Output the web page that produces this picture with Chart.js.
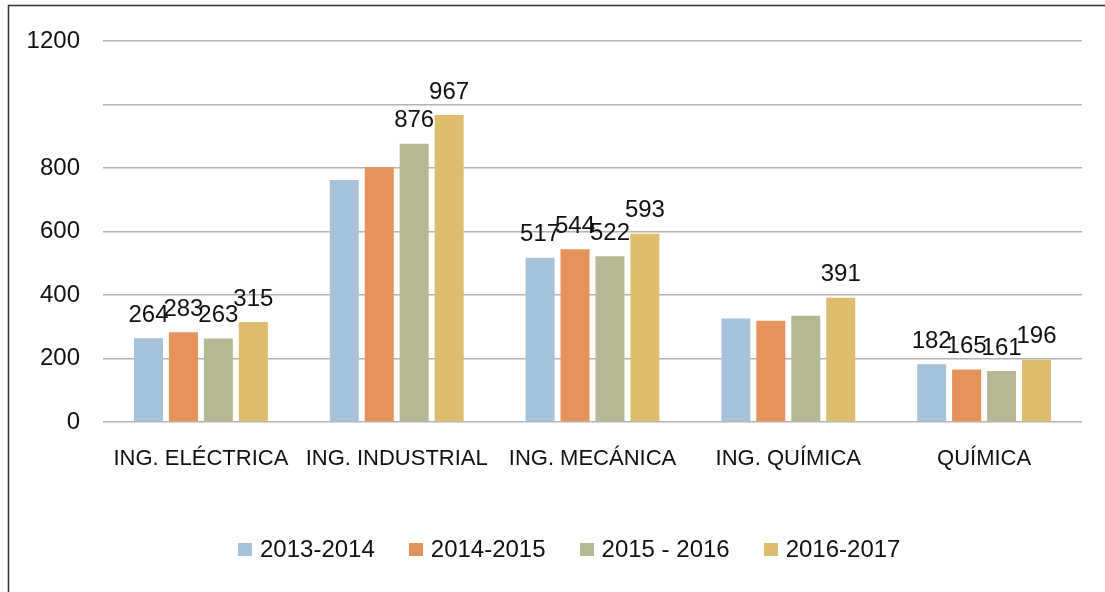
<!DOCTYPE html>
<html>
<head>
<meta charset="utf-8">
<script src="https://cdn.jsdelivr.net/npm/chart.js@4"></script>
<style>
html,body{margin:0;padding:0;background:#fff;}
#wrap{position:relative;width:1105px;height:592px;}
canvas{display:block;}
#legend{position:absolute;left:238px;top:535px;display:flex;align-items:center;font-family:'Liberation Sans',Arial,sans-serif;font-size:24px;color:#111;white-space:nowrap;}
#legend .item{display:flex;align-items:center;margin-right:34px;}
#legend .box{width:14px;height:13px;margin-right:8px;}
</style>
</head>
<body>
<div id="wrap"><canvas id="c" width="1105" height="592"></canvas><div id="legend"></div></div>
<script>
const categories = ['ING. ELÉCTRICA', 'ING. INDUSTRIAL', 'ING. MECÁNICA', 'ING. QUÍMICA', 'QUÍMICA'];
const seriesNames = ['2013-2014', '2014-2015', '2015 - 2016', '2016-2017'];
const s2013 = [264, 762, 517, 326, 182];
const s2014 = [283, 803, 544, 319, 165];
const s2015 = [263, 876, 522, 335, 161];
const s2016 = [315, 967, 593, 391, 196];
// which value labels are visible in the reference (others are hidden/overlapped)
const showLabel2013 = [true, false, true, false, true];
const showLabel2014 = [true, false, true, false, true];
const showLabel2015 = [true, true, true, false, true];
const showLabel2016 = [true, true, true, true, true];
const yTicks = [0, 200, 400, 600, 800, 1000, 1200];
const yTickLabels = ['0', '200', '400', '600', '800', '', '1200'];
const colors = ['#A6C3DB', '#E4935B', '#B5B893', '#DFBD6E'];

const FONT = "'Liberation Sans', Arial, sans-serif";
const seriesData = [s2013, s2014, s2015, s2016];
const showLabels = [showLabel2013, showLabel2014, showLabel2015, showLabel2016];

const valueLabels = {
  id: 'valueLabels',
  afterDatasetsDraw(chart) {
    const ctx = chart.ctx;
    ctx.save();
    ctx.font = '24px ' + FONT;
    ctx.fillStyle = '#111';
    ctx.textAlign = 'center';
    ctx.textBaseline = 'middle';
    chart.data.datasets.forEach((ds, di) => {
      const meta = chart.getDatasetMeta(di);
      meta.data.forEach((bar, i) => {
        if (!showLabels[di][i]) return;
        ctx.fillText(String(ds.data[i]), bar.x, bar.y - 23);
      });
    });
    ctx.restore();
  }
};

const frame = {
  id: 'frame',
  beforeDraw(chart) {
    const ctx = chart.ctx;
    ctx.save();
    ctx.fillStyle = '#fff';
    ctx.fillRect(0, 0, chart.width, chart.height);
    ctx.strokeStyle = '#333';
    ctx.lineWidth = 1.5;
    ctx.beginPath();
    ctx.moveTo(8.5, chart.height);
    ctx.lineTo(8.5, 5.5);
    ctx.lineTo(chart.width, 5.5);
    ctx.stroke();
    ctx.restore();
  }
};

const chart = new Chart(document.getElementById('c'), {
  type: 'bar',
  data: {
    labels: categories,
    datasets: seriesNames.map((n, i) => ({
      label: n,
      data: seriesData[i],
      backgroundColor: colors[i],
      borderWidth: 0,
      categoryPercentage: 0.714,
      barPercentage: 0.83
    }))
  },
  options: {
    responsive: false,
    animation: false,
    events: [],
    layout: { padding: { top: 41, right: 23, bottom: 64, left: 0 } },
    plugins: {
      legend: { display: false },
      tooltip: { enabled: false }
    },
    scales: {
      x: {
        grid: { display: false, drawTicks: false },
        border: { display: false },
        ticks: { color: '#111', font: { family: FONT, size: 22 }, padding: 24, maxRotation: 0, autoSkip: false },
        afterFit(scale) { scale.height = 106; }
      },
      y: {
        min: 0, max: 1200,
        afterBuildTicks(scale) { scale.ticks = yTicks.map(v => ({ value: v })); },
        grid: { color: '#B4B4B4', lineWidth: 1.5, drawTicks: false },
        border: { display: false },
        ticks: {
          color: '#111',
          font: { family: FONT, size: 24 },
          padding: 23,
          callback(v) { const k = yTicks.indexOf(v); return k >= 0 ? yTickLabels[k] : ''; }
        },
        afterFit(scale) { scale.width = 103; }
      }
    }
  },
  plugins: [frame, valueLabels]
});

// legend built from the chart's datasets
const legendEl = document.getElementById('legend');
chart.data.datasets.forEach(ds => {
  const item = document.createElement('div');
  item.className = 'item';
  const box = document.createElement('span');
  box.className = 'box';
  box.style.background = ds.backgroundColor;
  const txt = document.createElement('span');
  txt.textContent = ds.label;
  item.appendChild(box);
  item.appendChild(txt);
  legendEl.appendChild(item);
});
</script>
</body>
</html>
